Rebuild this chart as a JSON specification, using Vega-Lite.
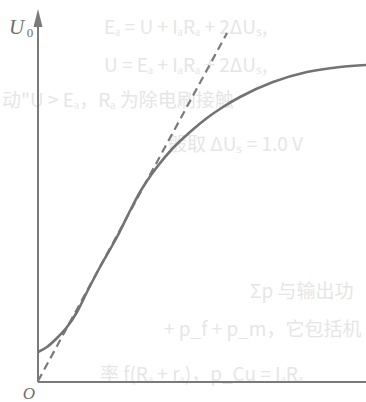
{
  "$schema": "https://vega.github.io/schema/vega-lite/v6.json",
  "width": 366,
  "height": 402,
  "padding": 0,
  "autosize": {"type": "none"},
  "config": {"view": {"stroke": null}},
  "background": "#ffffff",
  "datasets": {
    "curve": [
      {"x": 0, "y": 30}, {"x": 9, "y": 35}, {"x": 19, "y": 44}, {"x": 29, "y": 55},
      {"x": 39, "y": 70}, {"x": 50, "y": 92}, {"x": 62, "y": 115}, {"x": 79, "y": 145},
      {"x": 95, "y": 177}, {"x": 102, "y": 190}, {"x": 119, "y": 215}, {"x": 135, "y": 234},
      {"x": 152, "y": 250}, {"x": 169, "y": 264}, {"x": 185, "y": 275}, {"x": 202, "y": 285},
      {"x": 235, "y": 300}, {"x": 269, "y": 310}, {"x": 302, "y": 315}, {"x": 328, "y": 317}
    ],
    "tangent": [{"x": 0, "y": 1}, {"x": 189, "y": 349}],
    "axes": [
      {"x": 0, "y": 0, "x2": 0, "y2": 358},
      {"x": 0, "y": 0, "x2": 328, "y2": 0}
    ],
    "arrow": [{"x": 0, "y": 364}],
    "ulabel": [{"x": -21.5, "y": 354, "t": "U"}],
    "olabel": [{"x": -9, "y": -12, "t": "O"}],
    "sub": [{"x": -8, "y": 349, "t": "0"}],
    "ghost": [
      {"x": 66, "y": 354, "t": "Eₐ = U + IₐRₐ + 2ΔUₛ,"},
      {"x": 66, "y": 316, "t": "U = Eₐ + IₐRₐ + 2ΔUₛ,"},
      {"x": -36, "y": 281, "t": "动\"U > Eₐ，Rₐ 为除电刷接触"},
      {"x": 130, "y": 237, "t": "般取 ΔUₛ = 1.0 V"},
      {"x": 212, "y": 90, "t": "Σp 与输出功"},
      {"x": 126, "y": 52, "t": "+ p_f + p_m，它包括机"},
      {"x": 62, "y": 7, "t": "率 f(Rₐ + rₐ)，p_Cu = IₐRₐ"}
    ]
  },
  "encoding": {
    "x": {"field": "x", "type": "quantitative", "axis": null,
          "scale": {"domain": [-38, 328], "nice": false, "zero": false}},
    "y": {"field": "y", "type": "quantitative", "axis": null,
          "scale": {"domain": [-20, 382], "nice": false, "zero": false}}
  },
  "layer": [
    {
      "data": {"name": "ghost"},
      "mark": {"type": "text", "align": "left", "baseline": "middle", "fontSize": 19,
               "font": "Noto Sans CJK SC", "color": "#e6e6e6"},
      "encoding": {"text": {"field": "t"}}
    },
    {
      "data": {"name": "axes"},
      "mark": {"type": "rule", "color": "#7a7a7a", "strokeWidth": 2},
      "encoding": {
        "x2": {"field": "x2"},
        "y2": {"field": "y2"}
      }
    },
    {
      "data": {"name": "arrow"},
      "mark": {"type": "point", "shape": "M0,-1L0.5,1L-0.5,1Z", "size": 324,
               "filled": true, "color": "#7a7a7a", "opacity": 1}
    },
    {
      "data": {"name": "tangent"},
      "mark": {"type": "line", "color": "#7a7a7a", "strokeWidth": 2.2, "strokeDash": [8, 5]}
    },
    {
      "data": {"name": "curve"},
      "mark": {"type": "line", "color": "#737373", "strokeWidth": 2.6, "interpolate": "monotone"}
    },
    {
      "data": {"name": "ulabel"},
      "mark": {"type": "text", "align": "center", "baseline": "middle", "fontSize": 21,
               "font": "Liberation Serif", "fontStyle": "italic", "color": "#6e6e6e"},
      "encoding": {"text": {"field": "t"}}
    },
    {
      "data": {"name": "olabel"},
      "mark": {"type": "text", "align": "center", "baseline": "middle", "fontSize": 17,
               "font": "Liberation Serif", "fontStyle": "italic", "color": "#6e6e6e"},
      "encoding": {"text": {"field": "t"}}
    },
    {
      "data": {"name": "sub"},
      "mark": {"type": "text", "align": "center", "baseline": "middle", "fontSize": 13,
               "font": "Liberation Serif", "color": "#6e6e6e"},
      "encoding": {"text": {"field": "t"}}
    }
  ]
}
